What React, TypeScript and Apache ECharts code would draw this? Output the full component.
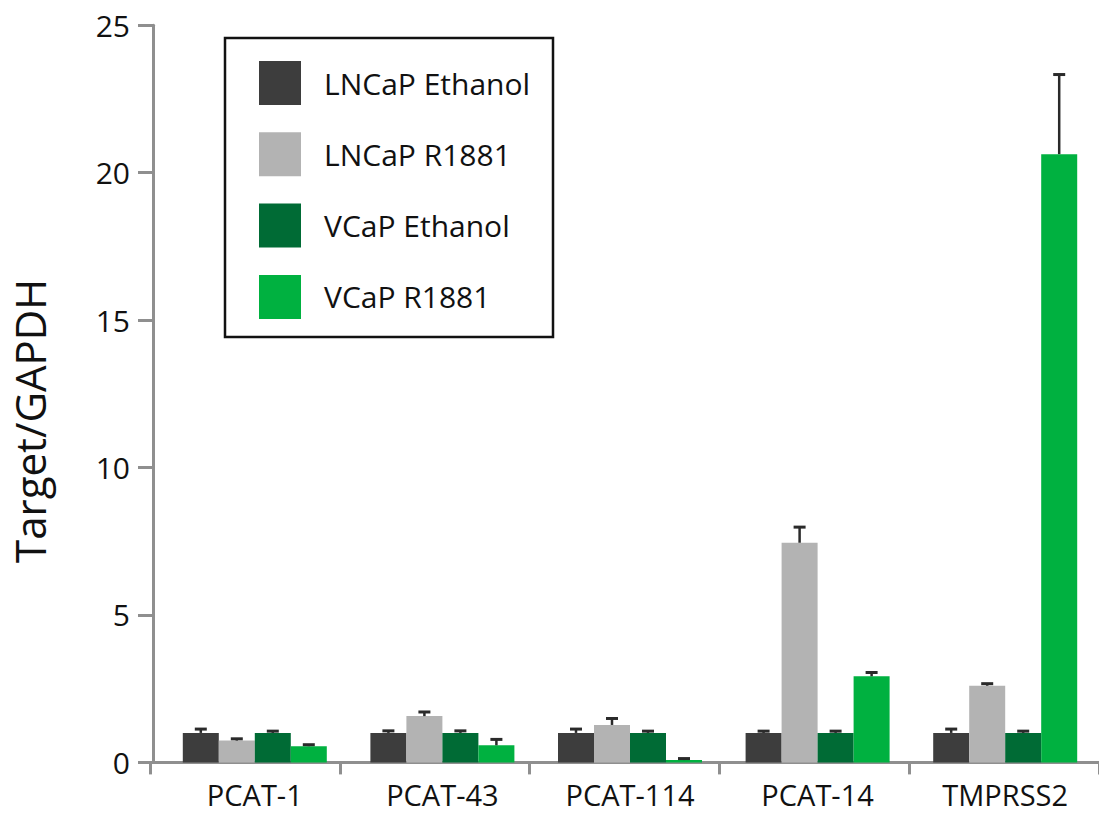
import React, { useEffect, useRef } from "react";
import * as echarts from "echarts";

const categories = ["PCAT-1", "PCAT-43", "PCAT-114", "PCAT-14", "TMPRSS2"];
const seriesNames = ["LNCaP Ethanol", "LNCaP R1881", "VCaP Ethanol", "VCaP R1881"];

const lncapEthanol = [1.0, 1.0, 1.0, 1.0, 1.0];
const lncapEthanolErr = [0.13, 0.07, 0.13, 0.06, 0.13];
const lncapR1881 = [0.74, 1.57, 1.27, 7.45, 2.6];
const lncapR1881Err = [0.06, 0.14, 0.22, 0.53, 0.07];
const vcapEthanol = [1.0, 1.0, 1.0, 1.0, 1.0];
const vcapEthanolErr = [0.06, 0.07, 0.06, 0.06, 0.06];
const vcapR1881 = [0.55, 0.58, 0.08, 2.92, 20.63];
const vcapR1881Err = [0.05, 0.2, 0.05, 0.13, 2.7];

const yTicks = [0, 5, 10, 15, 20, 25];

const values = [lncapEthanol, lncapR1881, vcapEthanol, vcapR1881];
const errors = [lncapEthanolErr, lncapR1881Err, vcapEthanolErr, vcapR1881Err];
const colors = ["#3d3d3d", "#b3b3b3", "#006b35", "#00b140"];

const FONT = "'Open Sans', 'Noto Sans', sans-serif";
const AXIS_GREY = "#8f8f8f";
const BAR_W = 36;

export default function App() {
  const ref = useRef<HTMLDivElement>(null);

  useEffect(() => {
    if (!ref.current) return;
    const chart = echarts.init(ref.current, undefined, { renderer: "svg" });

    const errData: number[][] = [];
    values.forEach((vals, s) => {
      vals.forEach((v, c) => errData.push([c, s, v, errors[s][c]]));
    });

    const barSeries = values.map((vals, s) => ({
      name: seriesNames[s],
      type: "bar",
      xAxisIndex: 0,
      yAxisIndex: 0,
      data: vals,
      barWidth: BAR_W,
      barGap: "0%",
      itemStyle: { color: colors[s] },
    }));

    const option: any = {
      animation: false,
      backgroundColor: "#ffffff",
      textStyle: { fontFamily: FONT },
      grid: [
        { left: 158, top: 25.3, width: 972.5, bottom: 53.6, containLabel: false },
        { left: 150, top: 25.3, width: 972.5, bottom: 53.6, containLabel: false },
      ],
      legend: {
        orient: "vertical",
        left: 254,
        top: 56,
        itemWidth: 42,
        itemHeight: 44,
        itemGap: 27.3,
        icon: "rect",
        data: seriesNames,
        selectedMode: false,
        textStyle: { fontSize: 30, color: "#111", fontFamily: FONT, padding: [0, 0, 0, 18] },
      },
      xAxis: [
        {
          type: "category",
          gridIndex: 0,
          data: categories,
          axisLine: { show: false },
          axisTick: { show: false },
          axisLabel: { fontSize: 29, lineHeight: 29, color: "#111", margin: 18, fontFamily: FONT },
        },
        {
          type: "category",
          gridIndex: 1,
          data: categories,
          axisLine: { show: true, lineStyle: { color: AXIS_GREY, width: 3 } },
          axisTick: { show: true, length: 12, lineStyle: { color: AXIS_GREY, width: 3 } },
          axisLabel: { show: false },
        },
      ],
      yAxis: [
        {
          type: "value",
          gridIndex: 0,
          min: yTicks[0],
          max: yTicks[yTicks.length - 1],
          interval: 5,
          offset: 8,
          name: "Target/GAPDH",
          nameLocation: "middle",
          nameGap: 103,
          nameTextStyle: { fontSize: 42, color: "#111", fontFamily: FONT, padding: [0, 54, 0, 0] },
          axisLine: { show: true, lineStyle: { color: AXIS_GREY, width: 3 } },
          axisTick: { show: true, length: 15, lineStyle: { color: AXIS_GREY, width: 3 } },
          axisLabel: { fontSize: 30, color: "#111", margin: 23, fontFamily: FONT },
          splitLine: { show: false },
        },
        {
          type: "value",
          gridIndex: 1,
          min: yTicks[0],
          max: yTicks[yTicks.length - 1],
          interval: 5,
          show: false,
        },
      ],
      series: [
        ...barSeries,
        {
          type: "custom",
          name: "error",
          xAxisIndex: 0,
          yAxisIndex: 0,
          data: errData,
          encode: { x: 0, y: 2 },
          z: 10,
          renderItem: (params: any, api: any) => {
            const c = api.value(0);
            const s = api.value(1);
            const v = api.value(2);
            const e = api.value(3);
            const base = api.coord([c, v]);
            const top = api.coord([c, v + e]);
            const x = base[0] + (s - 1.5) * BAR_W;
            const capHalf = 6;
            return {
              type: "group",
              children: [
                {
                  type: "line",
                  shape: { x1: x, y1: base[1], x2: x, y2: top[1] },
                  style: { stroke: "#2a2a2a", lineWidth: 2.5 },
                },
                {
                  type: "line",
                  shape: { x1: x - capHalf, y1: top[1], x2: x + capHalf, y2: top[1] },
                  style: { stroke: "#2a2a2a", lineWidth: 3 },
                },
              ],
            };
          },
        },
      ],
      graphic: [
        {
          type: "rect",
          shape: { x: 225, y: 38, width: 328, height: 299 },
          style: { fill: "none", stroke: "#111", lineWidth: 2.5 },
          z: 100,
        },
      ],
    };

    chart.setOption(option);
    return () => chart.dispose();
  }, []);

  return (
    <div
      ref={ref}
      style={{ position: "fixed", left: 0, top: 0, width: 1099, height: 816, background: "#fff" }}
    />
  );
}
